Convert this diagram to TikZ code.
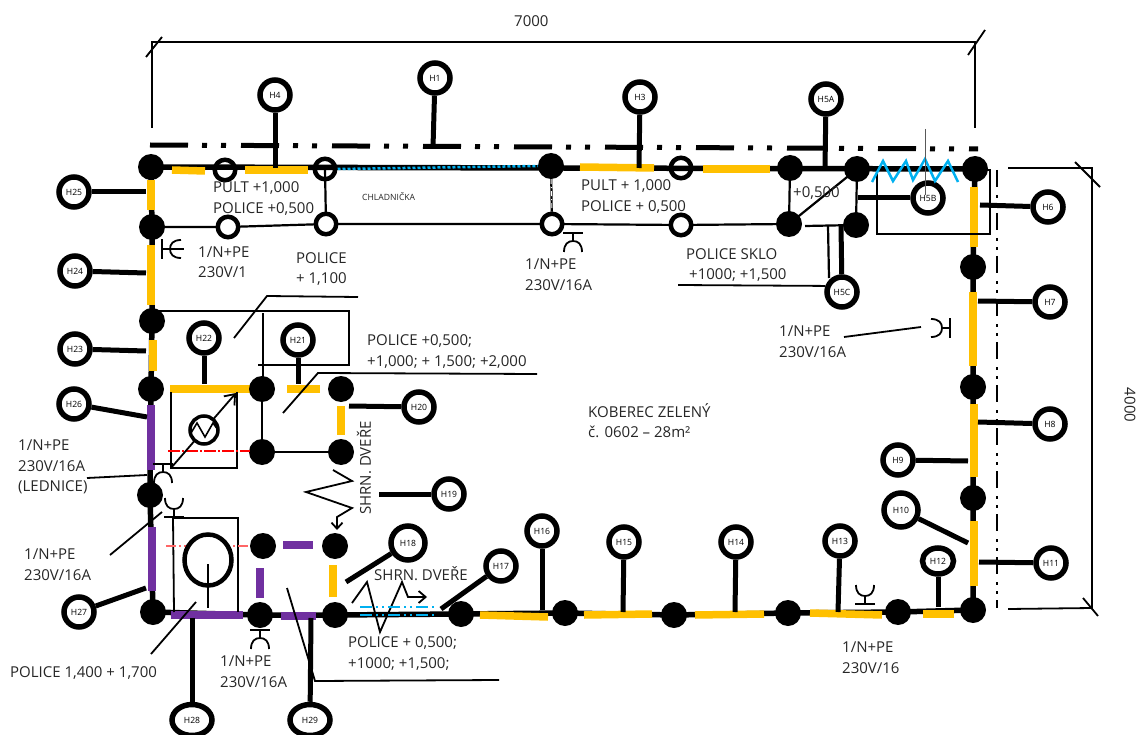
\documentclass[tikz,border=0pt]{standalone}
\usepackage{fontspec}
\setmainfont{Open Sans}
\usetikzlibrary{shapes.geometric,arrows.meta,backgrounds}
\definecolor{orng}{HTML}{FFC000}
\definecolor{purp}{HTML}{7030A0}
\definecolor{cyanb}{HTML}{00B0F0}
\tikzset{
  x=1pt,y=-1pt,
  dot/.style={circle,fill=black,inner sep=0pt,minimum size=26pt},
  ringo/.style={circle,draw=black,line width=4.5pt,inner sep=0pt,minimum size=20.5pt},
  ringw/.style={circle,draw=black,fill=white,line width=4.5pt,inner sep=0pt,minimum size=20.5pt},
  hc/.style={circle,draw=black,fill=white,line width=5.5pt,inner sep=0pt,minimum size=30pt,font=\fontsize{8.6}{10}\selectfont},
  he/.style={ellipse,draw=black,fill=white,line width=5.5pt,inner sep=0pt,minimum width=40pt,minimum height=31pt,font=\fontsize{8.6}{10}\selectfont},
  lbl/.style={anchor=west,inner sep=0pt,font=\fontsize{15}{17}\selectfont,text=black!85},
  wire/.style={line width=5.5pt,draw=black},
  thinw/.style={line width=2.2pt,draw=black},
  stemline/.style={line width=5pt,draw=black},
  leader/.style={line width=1.8pt,draw=black},
  seg o/.style={line width=7.5pt,draw=orng},
  seg p/.style={line width=7.5pt,draw=purp},
  axisdash/.style={line width=5pt,dash pattern=on 38pt off 14pt on 5pt off 14pt on 5pt off 15pt},
  axisthin/.style={line width=2.5pt,dash pattern=on 17pt off 8pt on 3pt off 6pt on 3pt off 6pt},
  sk/.style={line width=1.8pt,draw=black},
}
\newcommand\stem[2]{\coordinate (#1e) at (#2); \draw[stemline] (#1) -- (#1e);}
\newcommand\sock[3]{\begin{scope}[shift={(#1,#2)},rotate=#3]
  \draw[sk] (-10,0) -- (10,0);
  \draw[sk] (0,0) -- (0,8);
  \draw[sk] (-9,19) .. controls (-9,11) and (-5,8) .. (0,8) .. controls (5,8) and (9,11) .. (9,19);
\end{scope}}
\begin{document}
\begin{tikzpicture}
\useasboundingbox (0,0) rectangle (1140,735);
% junction dots
\foreach \n/\px/\py in {t1/151/167,t4/551/166,t6/790/168,t7/857/169,t8/975/169,
  m1/152/227,m6/789/224,m7/856/225,
  l3/152/321,l4/151/389,l5/150/495,l6/153/612,
  r2/973/267,r3/973/387,r4/973/498,r5/973/610,
  a1/262/389,a2/341/389,a3/262/452,a4/341/452,
  b1/263/546,b2/335/546,b3/260/615,b4/335/615,
  c1/461/614,c2/565/613,c3/674/615,c4/788/613,c5/898/612}
  {\node[dot] (\n) at (\px,\py) {};}
\foreach \n/\px/\py in {t2/225/170,t3/325/169,t5/681/168}
  {\node[ringo] (\n) at (\px,\py) {};}
\foreach \n/\px/\py in {m2/228/227,m3/326/224,m4/552/224,m5/681/225}
  {\node[ringw] (\n) at (\px,\py) {};}
% numbered circles
\foreach \n/\px/\py/\t in {h1/435/78/H1,h3/640/97/H3,h4/275/95/H4,h5a/826/99/H5A,h5b/928/198/H5B,h5c/842/292/H5C,
  h6/1048/207/H6,h7/1050/302/H7,h8/1050/424/H8,h9/898/460/H9,h11/1051/563/H11,
  h13/840/541/H13,h14/736/542/H14,h15/624/542/H15,h16/542/531/H16,h17/501/566/H17,
  h19/449/494/H19,h20/419/407/H20,h21/298/340/H21,h22/204/338/H22,h23/75/349/H23,
  h24/75/271/H24,h25/74/192/H25,h26/74/404/H26,h27/79/612/H27}
  {\node[hc] (\n) at (\px,\py) {\t};}
\node[hc,minimum size=34pt] (h10) at (901,510) {H10};
\node[hc,minimum size=34pt] (h18) at (408,543) {H18};
\node[he,minimum width=31pt,minimum height=26pt] (h12) at (938,561) {H12};
\node[he] (h28) at (192,720) {H28};
\node[he] (h29) at (310,720) {H29};
% labels
\node[lbl] (t01) at (514,21) {7000};
\node[lbl,rotate=-90,anchor=center] (t02) at (1130,405) {4000};
\node[lbl] (t03) at (213,188) {PULT +1,000};
\node[lbl] (t04) at (213,209) {POLICE +0,500};
\node[lbl,font=\fontsize{8.6}{10}\selectfont] (t05) at (362,197) {CHLADNIČKA};
\node[lbl] (t06) at (198,252) {1/N+PE};
\node[lbl] (t07) at (198,272) {230V/1};
\node[lbl] (t08) at (296,258) {POLICE};
\node[lbl] (t09) at (296,279) {+ 1,100};
\node[lbl] (t10) at (581,186) {PULT + 1,000};
\node[lbl] (t11) at (581,207) {POLICE + 0,500};
\node[lbl] (t12) at (793,193) {+0,500};
\node[lbl] (t13) at (525,264) {1/N+PE};
\node[lbl] (t14) at (525,285) {230V/16A};
\node[lbl] (t15) at (686,254) {POLICE SKLO};
\node[lbl] (t16) at (689,275) {+1000; +1,500};
\node[lbl] (t17) at (779,331) {1/N+PE};
\node[lbl] (t18) at (779,352) {230V/16A};
\node[lbl] (t19) at (367,341) {POLICE +0,500;};
\node[lbl] (t20) at (367,362) {+1,000; + 1,500; +2,000};
\node[lbl] (t21) at (588,411) {KOBEREC ZELENÝ};
\node[lbl] (t22) at (588,432) {č. 0602 – 28m²};
\node[lbl] (t23) at (18,445) {1/N+PE};
\node[lbl] (t24) at (18,466) {230V/16A};
\node[lbl] (t25) at (18,487) {(LEDNICE)};
\node[lbl] (t26) at (24,554) {1/N+PE};
\node[lbl] (t27) at (24,575) {230V/16A};
\node[lbl,rotate=90,anchor=center] (t28) at (364,468) {SHRN. DVEŘE};
\node[lbl] (t29) at (374,574) {SHRN. DVEŘE};
\node[lbl] (t30) at (348,643) {POLICE + 0,500;};
\node[lbl] (t31) at (348,664) {+1000; +1,500;};
\node[lbl] (t32) at (10,673) {POLICE 1,400 + 1,700};
\node[lbl] (t33) at (220,661) {1/N+PE};
\node[lbl] (t34) at (220,682) {230V/16A};
\node[lbl] (t35) at (842,647) {1/N+PE};
\node[lbl] (t36) at (842,668) {230V/16};
\begin{scope}[on background layer]
% thin wires
\draw[thinw] (m1.center) -- (m2.center) -- (m3.center) -- (m4.center) -- (m5.center) -- (m6.center);
\draw[thinw] (t3.center) -- (m3.center);
\draw[thinw] (t4.center) -- (m4.center);
\draw[white,line width=1pt,dash pattern=on 5pt off 3pt on 1pt off 3pt] (t4.south) -- (m4.north);
\draw[thinw] (t6.center) -- (m6.center);
\draw[thinw] (t7.center) -- (m7.center);
\draw[thinw] (m6.center) -- (t7.center);
\coordinate (m6r) at (805,226); \draw[thinw] (m6r) -- (m7.center);
\coordinate (dbl1) at (828,226); \coordinate (dbl2) at (829,278); \draw[thinw] (dbl1) -- (dbl2);
\draw[thinw] (a1.center) -- (a3.center) -- (a4.center);
% main wires
\draw[wire] (t1.center) -- (t8.center);
\draw[wire] (t1.center) -- (m1.center) -- (l3.center) -- (l4.center) -- (l5.center) -- (l6.center);
\draw[wire] (t8.center) -- (r2.center) -- (r3.center) -- (r4.center) -- (r5.center);
\draw[wire] (l6.center) -- (b3.center) -- (b4.center) -- (c1.center) -- (c2.center) -- (c3.center) -- (c4.center) -- (c5.center) -- (r5.center);
\draw[cyanb,line width=2.5pt,dash pattern=on 3pt off 2pt] (t3.east) -- (t4.west);
% orange segments
\foreach \p/\q in {{172,170}/{205,171},{245,170}/{308,170},{580,167}/{654,168},{703,169}/{770,169},
  {151,180}/{151,210},{151,245}/{151,305},{153,340}/{153,371},{170,389}/{250,389},{287,389}/{320,389},
  {341,406}/{341,435},{333,565}/{333,597},{974,187}/{974,247},{973,292}/{973,366},{974,404}/{974,477},
  {974,521}/{974,586},{480,615}/{548,617},{584,615}/{652,614},{695,615}/{764,614},{810,613}/{882,615},{923,614}/{954,614}}
  {\draw[seg o] (\p) -- (\q);}
% purple segments
\foreach \p/\q in {{151,405}/{151,470},{152,527}/{152,591},{171,615}/{243,615},{281,616}/{316,616},{283,545}/{313,545},{260,568}/{260,598}}
  {\draw[seg p] (\p) -- (\q);}
% stems
\stem{h1}{433,147}
\stem{h3}{639,168}
\stem{h4}{275,168}
\stem{h5a}{825,168}
\stem{h5b}{858,198}
\stem{h5c}{841,226}
\stem{h6}{980,205}
\stem{h7}{978,301}
\stem{h8}{978,422}
\stem{h9}{968,461}
\stem{h10}{968,543}
\stem{h11}{979,562}
\stem{h12}{938,607}
\stem{h13}{838,612}
\stem{h14}{735,612}
\stem{h15}{623,612}
\stem{h16}{542,610}
\stem{h17}{441,609}
\stem{h18}{346,582}
\stem{h19}{379,494}
\stem{h20}{349,406}
\stem{h21}{298,384}
\stem{h22}{204,384}
\stem{h23}{146,351}
\stem{h24}{146,273}
\stem{h25}{146,192}
\stem{h26}{147,417}
\stem{h27}{146,588}
\stem{h28}{192,618}
\stem{h29}{311,618}
\end{scope}
% axis lines
\draw[axisdash] (150,145) -- (978,149);
\draw[axisthin] (997,170) -- (997,608);
% dimensions
\draw[leader] (152,128) -- (152,42) -- (975,42) -- (975,128);
\draw[leader] (146,57) -- (162,37);
\draw[leader] (968,55) -- (985,30);
\draw[leader] (1008,168) -- (1092,168) -- (1092,608) -- (1008,609);
\draw[leader] (1075,162) -- (1100,187);
\draw[leader] (1083,598) -- (1098,616);
% box around H5B
\draw[leader] (975,170) -- (990,170) -- (990,234) -- (877,234) -- (877,170);
\draw[cyanb,line width=2.5pt] (872,182) -- (883,161) -- (893,181) -- (906,161) -- (913,180) -- (925,159) -- (935,181) -- (948,161) -- (958,182);
\draw[gray!70!black,line width=1pt] (925,129) -- (925,195);
% H21 box
\draw[leader] (157,311) -- (349,311) -- (349,365) -- (258,365);
\draw[leader] (263,313) -- (263,377);
% fridge box
\draw[leader] (171,392) -- (171,468) -- (237,468) -- (237,392);
\draw[red,line width=1.2pt,dash pattern=on 12pt off 2pt on 2pt off 2pt] (168,451) -- (250,451);
\draw[leader,-{Straight Barb[length=9pt,width=14pt]}] (171,468) -- (236,393);
\node[circle,draw=black,fill=white,line width=3.5pt,minimum size=28pt,inner sep=0pt] (fr) at (204,430) {};
\draw[line width=1.6pt] (191,433) -- (197,423) -- (205,437) -- (213,423) -- (218,430);
% lower box
\draw[leader] (173,517) -- (174,612);
\draw[leader] (173,518) -- (238,518) -- (238,612);
\draw[red!60,line width=1.2pt,dash pattern=on 10pt off 3pt on 2pt off 3pt] (166,546) -- (250,546);
\node[ellipse,draw=black,fill=white,line width=4.5pt,minimum width=47pt,minimum height=51pt,inner sep=0pt] (ov) at (208,560) {};
\draw[leader] (208,564) -- (208,608);
% leaders
\draw[leader] (234,338) -- (267,296) -- (358,297);
\draw[leader] (283,413) -- (318,373) -- (537,374);
\draw[leader] (87,478) -- (147,475);
\draw[leader] (110,555) -- (162,512);
\draw[leader] (151,654) -- (196,602);
\draw[leader] (287,588) -- (315,681) -- (499,680);
\draw[leader] (678,285) -- (h5c.160);
\draw[leader] (844,337) -- (921,327);
% shutter zigzags
\draw[leader,-{Straight Barb[length=6pt,width=11pt]}] (333,470) -- (352,481) -- (306,492) -- (352,508) -- (337,517) -- (337,530);
\draw[leader,-{Straight Barb[length=7pt,width=12pt]}] (352,603) -- (367,582) -- (380,632) -- (402,582) -- (408,597) -- (427,597);
\draw[cyanb,line width=1.5pt,dash pattern=on 12pt off 4pt on 2pt off 4pt on 2pt off 4pt] (360,607) -- (435,607);
\draw[cyanb,line width=1.5pt,dash pattern=on 12pt off 4pt on 2pt off 4pt on 2pt off 4pt] (360,615) -- (435,615);
% sockets
\sock{573}{233}{0}
\sock{260}{630}{0}
\sock{163}{464}{0}
\sock{174}{517}{180}
\sock{865}{604}{180}
\sock{162}{249}{90}
\draw[sk] (162,249) -- (184,249);
\sock{950}{328}{-90}
\end{tikzpicture}
\end{document}
